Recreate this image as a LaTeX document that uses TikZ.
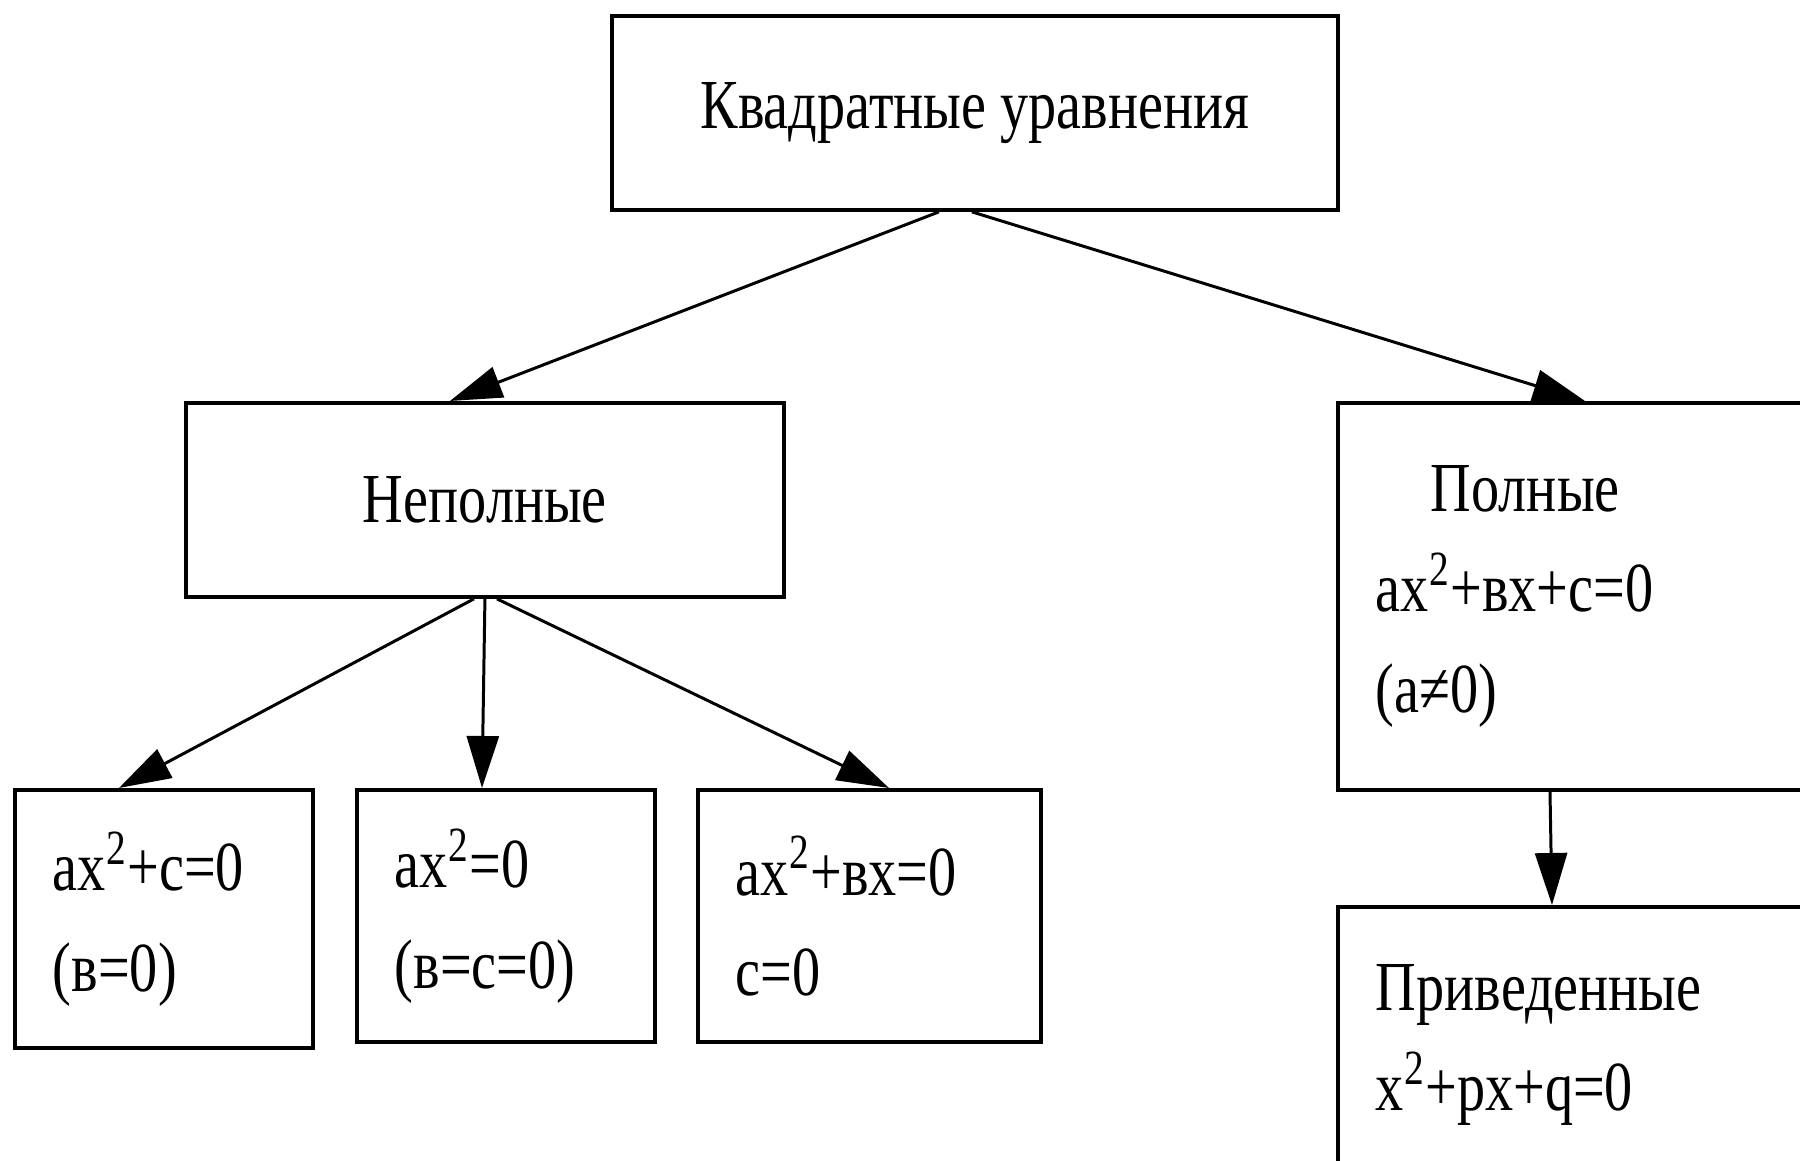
\documentclass[tikz,border=0pt]{standalone}
\usepackage{fontspec}
\setmainfont{Liberation Serif}[FakeStretch=0.8]
\usetikzlibrary{arrows.meta,positioning,calc}

\begin{document}
\begin{tikzpicture}[x=1cm, y=-1cm, font=\fontsize{20}{28.5}\selectfont,
    box/.style={draw, line width=1.1pt, inner xsep=0.38cm, inner ysep=0pt, align=left, anchor=north west},
    arr/.style={-{Triangle[length=0.52cm, width=0.32cm]}, line width=0.85pt}]
    \clip (0,0) rectangle (18,11.61);

    % boxes
    \node[box, align=center, minimum width=7.26cm, minimum height=1.94cm] (kvadr) at (6.10,0.14) {Квадратные уравнения};
    \node[box, align=center, minimum width=5.98cm, minimum height=1.94cm] (nepoln) at (1.84,4.01) {Неполные};
    \node[box, text width=4.18cm, minimum height=3.87cm] (poln) at (13.36,4.01)
        {\hspace*{0.55cm}Полные\\ax\textsuperscript{2}+вx+c=0\\(a≠0)\\[-0.14cm]};
    \node[box, text width=4.18cm, minimum height=2.76cm] (prived) at (13.36,9.05)
        {Приведенные\\x\textsuperscript{2}+px+q=0};

    \node[box, text width=2.22cm, minimum height=2.58cm] (urA) at (0.13,7.88) {ax\textsuperscript{2}+c=0\\(в=0)};
    \node[box, text width=2.22cm, minimum height=2.52cm] (urB) at (3.55,7.88) {ax\textsuperscript{2}=0\\(в=c=0)};
    \node[box, text width=2.67cm, minimum height=2.52cm] (urC) at (6.96,7.88) {ax\textsuperscript{2}+вx=0\\c=0};

    % arrows
    \draw[arr] ($(kvadr.south)+(-0.36,0)$) -- ($(nepoln.north)+(-0.35,0)$);
    \draw[arr] ($(kvadr.south)+(-0.03,0)$) -- ($(poln.north west)+(2.49,0)$);
    \draw[arr] ($(nepoln.south)+(-0.11,0)$) -- ($(urA.north west)+(1.06,0)$);
    \draw[arr] (nepoln.south) -- ($(urB.north west)+(1.27,0)$);
    \draw[arr] ($(nepoln.south)+(0.12,0)$) -- ($(urC.north west)+(1.93,0)$);
    \draw[arr] ($(poln.south west)+(2.14,0)$) -- ($(prived.north west)+(2.16,0)$);
\end{tikzpicture}
\end{document}
